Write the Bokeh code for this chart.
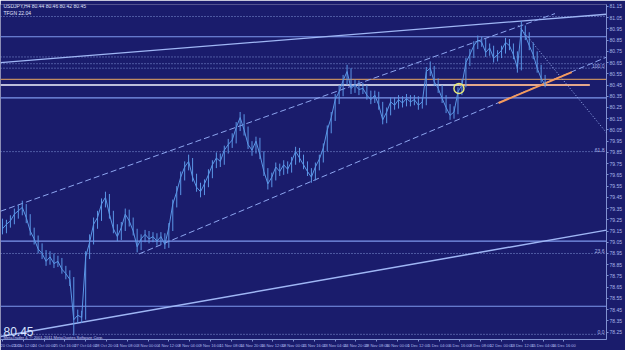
import numpy as np
from bokeh.plotting import figure
from bokeh.models import Range1d, FixedTicker, Label
from bokeh.embed import file_html
from bokeh.resources import INLINE

# ---------------- data ----------------
closes = [79.17, 79.21, 79.24, 79.30, 79.33, 79.36, 79.27, 79.15, 79.08, 78.99,
          78.95, 78.88, 78.92, 78.86, 78.88, 78.81, 78.77, 78.72, 78.36, 78.40,
          78.38, 78.92, 79.05, 79.21, 79.27, 79.39, 79.45, 79.30, 79.17, 79.10,
          79.18, 79.30, 79.24, 79.15, 79.01, 79.08, 79.12, 79.08, 79.10, 79.06,
          79.10, 79.03, 79.18, 79.39, 79.50, 79.63, 79.72, 79.77, 79.63, 79.54,
          79.50, 79.57, 79.65, 79.74, 79.80, 79.77, 79.87, 79.92, 79.96, 80.07,
          80.16, 80.05, 79.92, 79.87, 79.95, 79.83, 79.68, 79.57, 79.63, 79.72,
          79.68, 79.74, 79.70, 79.77, 79.86, 79.80, 79.74, 79.68, 79.63, 79.72,
          79.79, 79.89, 80.05, 80.16, 80.32, 80.39, 80.49, 80.57, 80.42, 80.45,
          80.41, 80.42, 80.36, 80.32, 80.36, 80.27, 80.14, 80.21, 80.30, 80.27,
          80.32, 80.29, 80.33, 80.30, 80.32, 80.27, 80.30, 80.57, 80.60, 80.48,
          80.42, 80.33, 80.25, 80.18, 80.21, 80.39, 80.45, 80.65, 80.72, 80.80,
          80.85, 80.83, 80.74, 80.78, 80.69, 80.72, 80.76, 80.83, 80.80, 80.72,
          80.60, 80.95, 80.89, 80.80, 80.72, 80.60, 80.51, 80.45]
highs = [79.26, 79.25, 79.29, 79.35, 79.38, 79.42, 79.39, 79.30, 79.18, 79.11,
         79.04, 78.98, 78.97, 78.95, 78.93, 78.91, 78.84, 78.80, 78.74, 78.45,
         78.44, 78.97, 79.12, 79.27, 79.33, 79.44, 79.50, 79.48, 79.33, 79.21,
         79.23, 79.35, 79.34, 79.27, 79.17, 79.12, 79.16, 79.15, 79.14, 79.13,
         79.14, 79.13, 79.22, 79.43, 79.55, 79.68, 79.77, 79.83, 79.80, 79.66,
         79.58, 79.61, 79.70, 79.78, 79.85, 79.84, 79.91, 79.97, 80.02, 80.12,
         80.21, 80.19, 80.08, 79.95, 79.99, 79.98, 79.86, 79.71, 79.67, 79.76,
         79.75, 79.78, 79.77, 79.81, 79.90, 79.89, 79.83, 79.77, 79.71, 79.76,
         79.83, 79.93, 80.09, 80.21, 80.37, 80.45, 80.54, 80.63, 80.60, 80.50,
         80.49, 80.47, 80.45, 80.40, 80.40, 80.39, 80.30, 80.25, 80.34, 80.34,
         80.36, 80.35, 80.37, 80.36, 80.36, 80.35, 80.34, 80.61, 80.66, 80.62,
         80.51, 80.45, 80.36, 80.28, 80.26, 80.43, 80.50, 80.69, 80.77, 80.84,
         80.89, 80.88, 80.86, 80.82, 80.80, 80.76, 80.80, 80.87, 80.86, 80.82,
         80.75, 81.02, 80.98, 80.92, 80.83, 80.75, 80.63, 80.54]
lows = [79.12, 79.13, 79.18, 79.21, 79.26, 79.29, 79.22, 79.11, 79.03, 78.95,
        78.90, 78.84, 78.85, 78.82, 78.83, 78.77, 78.72, 78.66, 78.22, 78.33,
        78.33, 78.36, 78.90, 79.03, 79.17, 79.24, 79.36, 79.26, 79.13, 79.06,
        79.07, 79.15, 79.19, 79.11, 78.96, 78.98, 79.05, 79.04, 79.05, 79.02,
        79.03, 78.99, 79.00, 79.15, 79.36, 79.47, 79.60, 79.69, 79.59, 79.50,
        79.45, 79.47, 79.54, 79.62, 79.71, 79.72, 79.74, 79.84, 79.89, 79.93,
        80.04, 80.00, 79.88, 79.82, 79.84, 79.79, 79.64, 79.52, 79.54, 79.60,
        79.64, 79.65, 79.66, 79.67, 79.74, 79.76, 79.70, 79.64, 79.58, 79.60,
        79.69, 79.76, 79.86, 80.02, 80.13, 80.28, 80.35, 80.45, 80.37, 80.38,
        80.36, 80.37, 80.32, 80.28, 80.29, 80.23, 80.10, 80.11, 80.18, 80.23,
        80.24, 80.25, 80.26, 80.26, 80.27, 80.23, 80.24, 80.27, 80.53, 80.44,
        80.38, 80.29, 80.20, 80.14, 80.15, 80.19, 80.36, 80.43, 80.62, 80.69,
        80.77, 80.79, 80.70, 80.71, 80.65, 80.66, 80.69, 80.73, 80.76, 80.68,
        80.56, 80.58, 80.85, 80.76, 80.68, 80.56, 80.47, 80.43]

time_labels = ["20 Oct 2011", "21 Oct 12:00", "24 Oct 00:00", "25 Oct 16:00", "27 Oct 04:00",
               "28 Oct 20:00", "1 Nov 08:00", "3 Nov 00:00", "4 Nov 12:00", "8 Nov 04:00",
               "9 Nov 16:00", "11 Nov 08:00", "14 Nov 20:00", "16 Nov 12:00", "18 Nov 00:00",
               "21 Nov 16:00", "23 Nov 04:00", "24 Nov 20:00", "28 Nov 08:00", "30 Nov 00:00",
               "1 Dec 12:00", "5 Dec 04:00", "6 Dec 16:00", "8 Dec 08:00", "12 Dec 00:00",
               "13 Dec 12:00", "15 Dec 04:00", "16 Dec 16:00"]

solid_levels = [80.88, 80.335, 79.06, 78.48]
dotted_levels = [81.06, 80.70, 80.64, 80.60, 79.857, 78.95, 78.23]
fibo_levels = [80.60, 79.857, 78.95, 78.23]
fibo_texts = ["100.0", "61.8", "23.6", "0.0"]
bid_price = 80.45
ask_like_level = 80.50

BG = "#1a1c6c"
BAR = "#5b96e6"
LIGHT = "#9fb6f5"
AXIS_TXT = "#aab6e8"

n = len(closes)
idx = np.arange(n)

X0, X1 = -0.5, 152.5
Y0, Y1 = 78.184, 81.167
p = figure(width=625, height=350, x_range=Range1d(X0, X1), y_range=Range1d(Y0, Y1),
           output_backend="svg", toolbar_location=None, y_axis_location="right",
           min_border_left=0, min_border_top=4, min_border_right=13, min_border_bottom=9,
           background_fill_color=BG, border_fill_color=BG, outline_line_color=None)
p.grid.visible = False

# axes
for ax in (p.xaxis[0], p.yaxis[0]):
    ax.axis_line_color = "#8090d0"
    ax.major_tick_line_color = "#8090d0"
    ax.major_tick_in = 0
    ax.major_tick_out = 2
    ax.minor_tick_line_color = None
    ax.major_label_text_color = AXIS_TXT
    ax.major_label_text_font = "Arial"
    ax.major_label_standoff = 1
p.yaxis[0].major_label_text_font_size = "5px"
p.xaxis[0].major_label_text_font_size = "4px"

price_ticks = list(np.round(np.arange(78.25, 81.16, 0.10), 2))
p.yaxis[0].ticker = FixedTicker(ticks=price_ticks)
p.yaxis[0].formatter.use_scientific = False

tpos = [k * 5.25 for k in range(len(time_labels))]
p.xaxis[0].ticker = FixedTicker(ticks=tpos)
p.xaxis[0].major_label_overrides = {t: s for t, s in zip(tpos, time_labels)}
p.xaxis[0].major_label_text_align = "left"

# horizontal objects
for lv in dotted_levels:
    p.segment(X0, lv, X1, lv, line_color=LIGHT, line_width=1, line_dash="1 2", line_alpha=0.8)
for lv in solid_levels:
    p.segment(X0, lv, X1, lv, line_color="#7e97ec", line_width=1.2)
p.segment(X0, ask_like_level, X1, ask_like_level, line_color="#c08a62", line_width=1.3)
p.segment(X0, bid_price, 148.25, bid_price, line_color="#f4f6ff", line_width=1.6)
p.segment(115.25, bid_price, 148.25, bid_price, line_color="#f2a070", line_width=1.6)

# sloped objects
p.segment(X0, 78.21, X1, 79.158, line_color=LIGHT, line_width=1.5)           # long bottom line
p.segment(X0, 80.65, X1, 81.08, line_color=LIGHT, line_width=1.3)            # upper solid
p.segment(X0, 79.326, 139.5, 81.086, line_color="#8ea6f0", line_width=1, line_dash="6 3")  # upper channel
p.segment(34.5, 78.946, X1, 80.698, line_color="#8ea6f0", line_width=1, line_dash="6 3")   # lower channel
p.segment(130.25, 80.98, X1, 80.025, line_color=LIGHT, line_width=1, line_dash="1 2")      # dotted fall
p.segment(125.25, 80.29, 143.75, 80.565, line_color="#f59a5c", line_width=2)               # orange trend

# price bars
p.segment(idx, lows, idx, highs, line_color=BAR, line_width=1)
p.line(idx, closes, line_color=BAR, line_width=1)

# circle marker
p.scatter([115.25], [80.42], size=10, fill_alpha=0, line_color="#e6e87a", line_width=1.5)

# fibo labels
for lv, t in zip(fibo_levels, fibo_texts):
    p.add_layout(Label(x=X1, y=lv, text=t, text_font_size="5px", text_color=AXIS_TXT,
                       text_align="right", text_baseline="bottom", x_offset=-2))

# highlighted axis labels of objects
for lv in [80.88, 81.06, 80.45, 80.50, 80.335, 79.06, 78.48, 80.64, 80.70]:
    p.add_layout(Label(x=X1, y=lv, text=f"{lv:.2f}", text_font_size="5px", text_color=BG,
                       text_align="left", text_baseline="middle", x_offset=1,
                       background_fill_color="#b9c8f5"))

# texts
p.add_layout(Label(x=X0, y=Y1, text="USDJPY,H4  80.44 80.46 80.42 80.45", text_font_size="5px",
                   text_color="#e0e6ff", text_font="Arial", text_baseline="top",
                   x_offset=3, y_offset=2))
p.add_layout(Label(x=X0, y=Y1, text="TFGN  22.04", text_font_size="5px",
                   text_color="#e0e6ff", text_font="Arial", text_baseline="top",
                   x_offset=3, y_offset=-5))
p.add_layout(Label(x=X0, y=Y0, text="80.45", text_font_size="12px", text_color="#d8e4ff",
                   text_font="Arial", text_baseline="bottom", x_offset=3, y_offset=4))
p.add_layout(Label(x=X0, y=Y0, text="MetaTrader 4, \u00a9 2001-2011 MetaQuotes Software Corp.",
                   text_font_size="4px", text_color="#c0c8f0", text_font="Arial",
                   text_baseline="bottom", x_offset=3, y_offset=0))

open("out.html", "w").write(file_html(p, INLINE))
